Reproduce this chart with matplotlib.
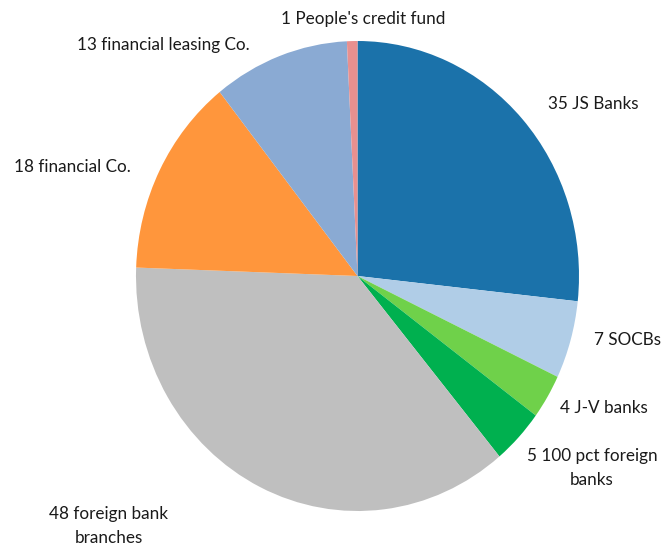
import matplotlib
matplotlib.use('Agg')
import matplotlib.pyplot as plt

# institution counts, clockwise from 12 o'clock
names = ['JS Banks', 'SOCBs', 'J-V banks', '100 pct foreign\nbanks',
         'foreign bank\nbranches', 'financial Co.', 'financial leasing Co.',
         "People's credit fund"]
counts = [35, 7, 4, 5, 48, 18, 13, 1]
colors = ['#1b72aa', '#b0cde7', '#6fd14a', '#00b04f',
          '#bfbfbf', '#ff963c', '#8aaad3', '#e8908f']

# label centres in figure pixels (x, y from top)
label_pos = [(593, 104), (627, 340), (604, 408), (592, 468),
             (109, 526), (72, 167), (163, 45), (363, 19)]

W, H = 662, 548
fig = plt.figure(figsize=(W / 100, H / 100), dpi=100)
# pie box is a touch taller than wide
ax = fig.add_axes([136 / W, 1 - 511 / H, 443 / W, 470 / H])
ax.pie(counts, colors=colors, startangle=90, counterclock=False,
       wedgeprops={'linewidth': 0})
ax.set_aspect('auto')
ax.set_xlim(-1, 1)
ax.set_ylim(-1, 1)
ax.axis('off')

for n, c, (x, y) in zip(names, counts, label_pos):
    fig.text(x / W, 1 - y / H, f'{c} {n}', ha='center', va='center',
             fontsize=12.3, family='Lato', color='#1a1a1a', linespacing=1.55)

fig.savefig('out.png', dpi=100)
